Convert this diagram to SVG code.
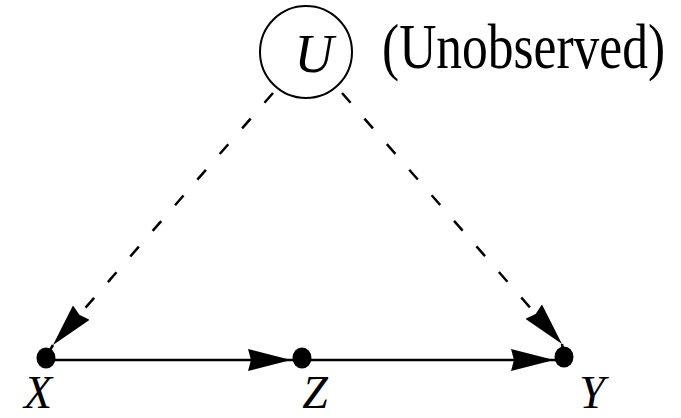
<svg xmlns="http://www.w3.org/2000/svg" width="681" height="418" viewBox="0 0 681 418">
<style>
.lbl{font-family:"Liberation Serif","Times New Roman",serif;font-style:italic;fill:#000}
.txt{font-family:"Liberation Serif","Times New Roman",serif;fill:#000}
.edge{stroke:#000;stroke-width:2.5;fill:none}
.dash{stroke-dasharray:13 21}
.dot{fill:#000}
</style>
<defs>
<marker id="ah" markerUnits="userSpaceOnUse" markerWidth="46" markerHeight="22" refX="43" refY="11" orient="auto">
<path d="M0,0 L43,11 L0,22 L3,11 Z" fill="#000"/>
</marker>
</defs>
<rect width="681" height="418" fill="#fff"/>
<g id="connectors">
<path class="edge dash" d="M273,93 L53,345" marker-end="url(#ah)"/>
<path class="edge" d="M53,345 L46,357"/>
<path class="edge dash" d="M342,93 L562,344" marker-end="url(#ah)"/>
<path class="edge" d="M562,344 L564,356"/>
<path class="edge" d="M50,360 L291,360" marker-end="url(#ah)"/>
<path class="edge" d="M291,360 L302,360"/>
<path class="edge" d="M302,360 L554,360" marker-end="url(#ah)"/>
<path class="edge" d="M554,360 L564,360"/>
</g>
<g id="node-U">
<circle cx="306" cy="52" r="46" fill="none" stroke="#000" stroke-width="2"/>
<text class="lbl" x="314" y="72" font-size="54" text-anchor="middle">U</text>
</g>
<g id="label-unobserved">
<text class="txt" transform="translate(382,68) scale(1,1.25)" x="0" y="0" font-size="51.5">(Unobserved)</text>
</g>
<g id="node-X">
<ellipse class="dot" cx="46" cy="358" rx="9.5" ry="10.5"/>
<text class="lbl" x="38" y="408" font-size="46" text-anchor="middle">X</text>
</g>
<g id="node-Z">
<ellipse class="dot" cx="302" cy="358" rx="9.5" ry="10.5"/>
<text class="lbl" x="315" y="408" font-size="46" text-anchor="middle">Z</text>
</g>
<g id="node-Y">
<ellipse class="dot" cx="564" cy="357" rx="9.5" ry="10.5"/>
<text class="lbl" x="592" y="408" font-size="46" text-anchor="middle">Y</text>
</g>
</svg>
